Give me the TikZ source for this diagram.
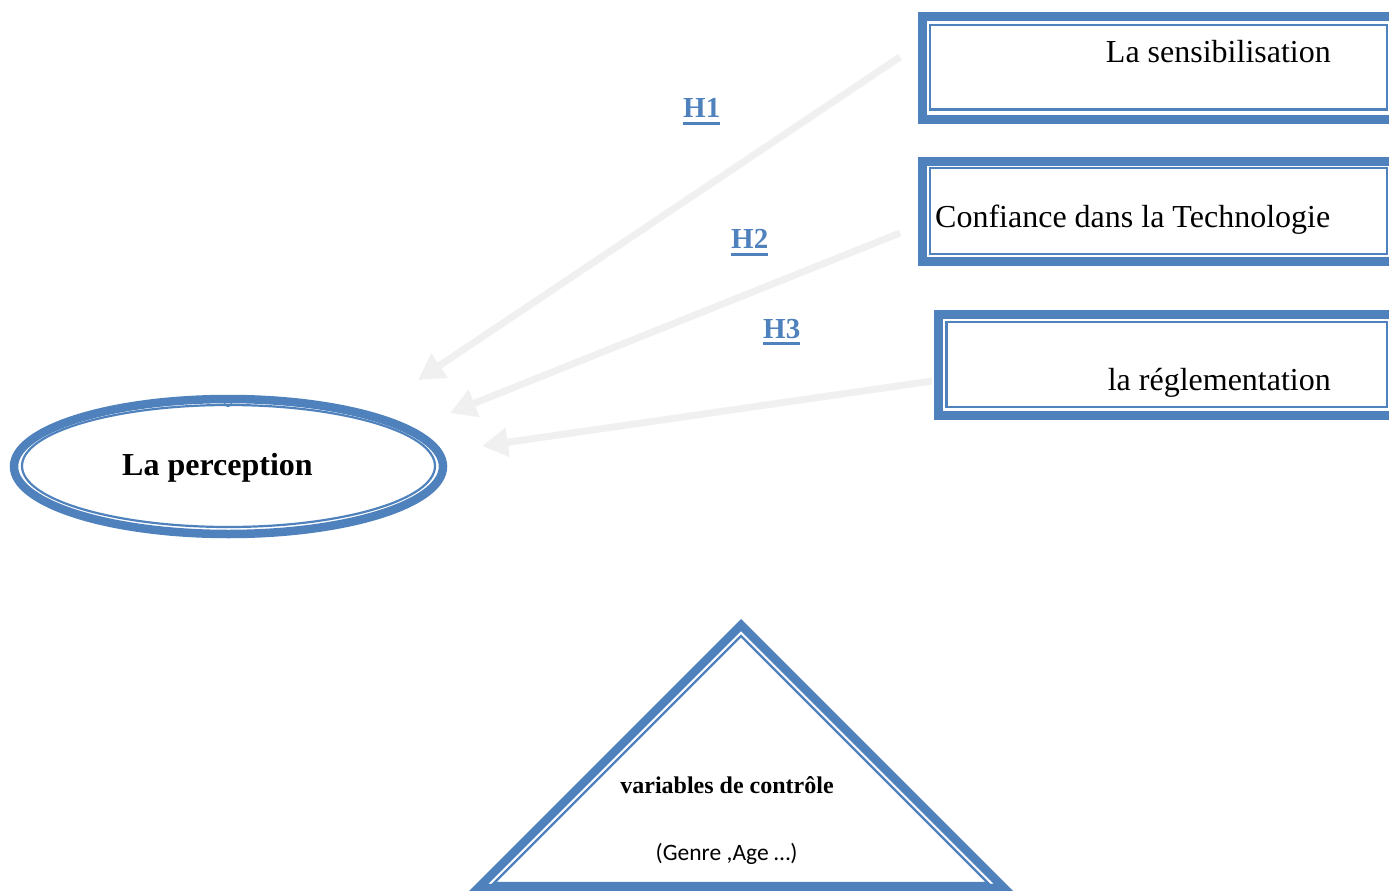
\documentclass[tikz,border=0pt]{standalone}
\usepackage{fontspec}
\setmainfont{Liberation Serif}
\newfontfamily\calib{Carlito}
\usetikzlibrary{arrows.meta,shapes.geometric}
\definecolor{blu}{HTML}{4F81BD}
\definecolor{agray}{RGB}{240,240,240}
\begin{document}
\begin{tikzpicture}[x=1pt,y=-1pt,
  outerband/.style={draw=blu,line width=9pt,inner sep=0pt,outer sep=0pt,rectangle},
  innerline/.style={draw=blu,line width=2.4pt,inner sep=0pt,outer sep=0pt,rectangle},
  hyp/.style={text=blu,font=\fontsize{29}{34}\selectfont\bfseries,inner sep=0pt,anchor=base west},
  uline/.style={draw=blu,line width=3pt},
  conn/.style={draw=agray,line width=7pt,-{Triangle[length=26pt,width=28pt]}},
  lab/.style={font=\fontsize{32}{38}\selectfont,inner sep=0pt}
]
\useasboundingbox (0,0) rectangle (1389,891);
\clip (0,0) rectangle (1389,891);

% boxes
\node[outerband,minimum width=472.5pt,minimum height=102pt] (b1o) at (1158.75,68) {};
\node[innerline,minimum width=457pt,minimum height=84.5pt] (b1i) at (1158.5,67.25) {};
\node[lab,anchor=base east] (t1) at (1331,63) {La sensibilisation};

\node[outerband,minimum width=472.5pt,minimum height=100.5pt] (b2o) at (1158.75,211.25) {};
\node[innerline,minimum width=457pt,minimum height=86pt] (b2i) at (1158.5,211) {};
\node[lab,anchor=base west] (t2) at (935,227) {Confiance dans la Technologie};

\node[outerband,minimum width=456.5pt,minimum height=101.5pt] (b3o) at (1166.75,364.75) {};
\node[innerline,minimum width=440.5pt,minimum height=85pt] (b3i) at (1166.75,364.5) {};
\node[lab,anchor=base east] (t3) at (1331,390) {la réglementation};

% ellipse
\draw[blu,line width=1.2pt] (228,403) circle (3.5);
\node[draw=blu,ellipse,line width=8.5pt,inner sep=0pt,minimum width=429pt,minimum height=135pt] (eo) at (228.5,466.5) {};
\node[draw=blu,ellipse,line width=2.2pt,inner sep=0pt,minimum width=413pt,minimum height=122pt] (ei) at (228.5,466) {};
\node[lab,font=\fontsize{32}{38}\selectfont\bfseries,anchor=base] (tp) at (217.5,475) {La perception};

% arrows
\coordinate (a1s) at (900,57);
\coordinate (a1e) at (418,380);
\coordinate (a2s) at (900,233);
\coordinate (a2e) at (450,413);
\coordinate (a3s) at (932,381);
\coordinate (a3e) at (482,446);
\draw[conn] (a1s) -- (a1e);
\draw[conn] (a2s) -- (a2e);
\draw[conn] (a3s) -- (a3e);

% hypothesis labels
\node[hyp] (h1) at (683,117) {H1};
\draw[uline] ([yshift=-6pt]h1.base west) -- ([yshift=-6pt]h1.base east);
\node[hyp] (h2) at (731,248) {H2};
\draw[uline] ([yshift=-6pt]h2.base west) -- ([yshift=-6pt]h2.base east);
\node[hyp] (h3) at (763,338) {H3};
\draw[uline] ([yshift=-5pt]h3.base west) -- ([yshift=-5pt]h3.base east);

% triangle
\draw[blu,line width=8.5pt,line join=miter] (741,625) -- (1004,888) -- (478,888) -- cycle;
\draw[blu,line width=2.2pt,line join=miter] (741,636) -- (988,883) -- (494,883) -- cycle;
\node[inner sep=0pt,anchor=base,font=\fontsize{24}{28}\selectfont\bfseries] (tv) at (727,793) {variables de contrôle};
\node[inner sep=0pt,anchor=base,font=\calib\fontsize{23.5}{27}\selectfont] (tg) at (726.5,860) {(Genre ,Age …)};
\end{tikzpicture}
\end{document}
